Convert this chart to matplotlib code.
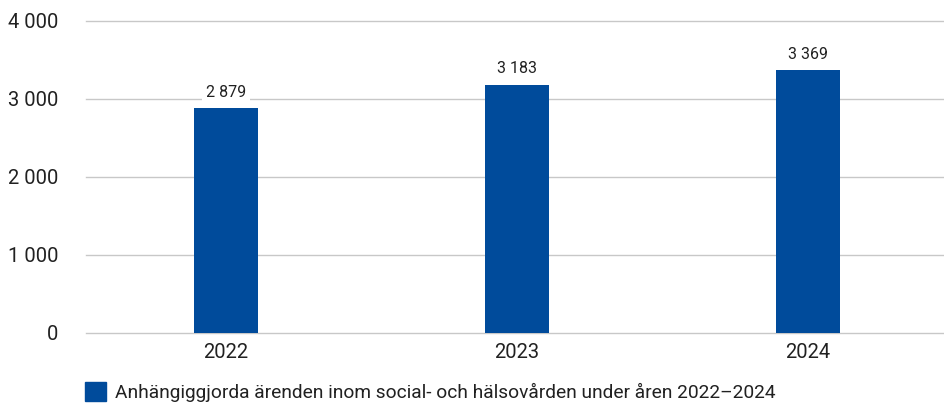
import matplotlib.pyplot as plt
from matplotlib.patches import Patch
from matplotlib.ticker import FuncFormatter

# data
years = ['2022', '2023', '2024']
cases = [2879, 3183, 3369]
legend_label = 'Anhängiggjorda ärenden inom social- och hälsovården under åren 2022–2024'

bar_color = '#004b9b'
plt.rcParams['font.family'] = ['Roboto', 'DejaVu Sans']


def fmt(v, pos=None):
    return f'{int(v):,}'.replace(',', ' ')


fig = plt.figure(figsize=(9.45, 4.05), dpi=100)
ax = fig.add_axes([86 / 945, 1 - 333 / 405, 1 - 86 / 945, (333 - 21) / 405])

x = range(len(years))
bars = ax.bar(x, cases, width=0.22, color=bar_color, zorder=3)

for b, v in zip(bars, cases):
    ax.annotate(fmt(v), (b.get_x() + b.get_width() / 2, v),
                xytext=(0, 6), textcoords='offset points',
                ha='center', va='bottom', fontsize=11.5, color='#212121',
                bbox=dict(boxstyle='square,pad=0.25', fc='white', ec='none'),
                zorder=4)

ax.set_ylim(0, 4000)
ax.set_xlim(-0.48, 2.47)
ax.set_yticks([0, 1000, 2000, 3000, 4000])
ax.yaxis.set_major_formatter(FuncFormatter(fmt))
ax.set_xticks(list(x))
ax.set_xticklabels(years)

ax.grid(axis='y', color='#c8c8c8', linewidth=1, zorder=0)
for gl in ax.get_ygridlines():
    gl.set_clip_on(False)
for s in ax.spines.values():
    s.set_visible(False)
ax.tick_params(axis='both', length=0, labelsize=14.5, colors='#212121')
ax.tick_params(axis='y', pad=20)
ax.tick_params(axis='x', pad=7)

fig.legend(handles=[Patch(color=bar_color, label=legend_label)],
           loc='lower left', bbox_to_anchor=(68 / 945, -0.035),
           frameon=False, fontsize=13.8, handlelength=1.1, handleheight=1.1,
           handletextpad=0.45, labelcolor='#212121')

fig.savefig('out.png', dpi=100)
